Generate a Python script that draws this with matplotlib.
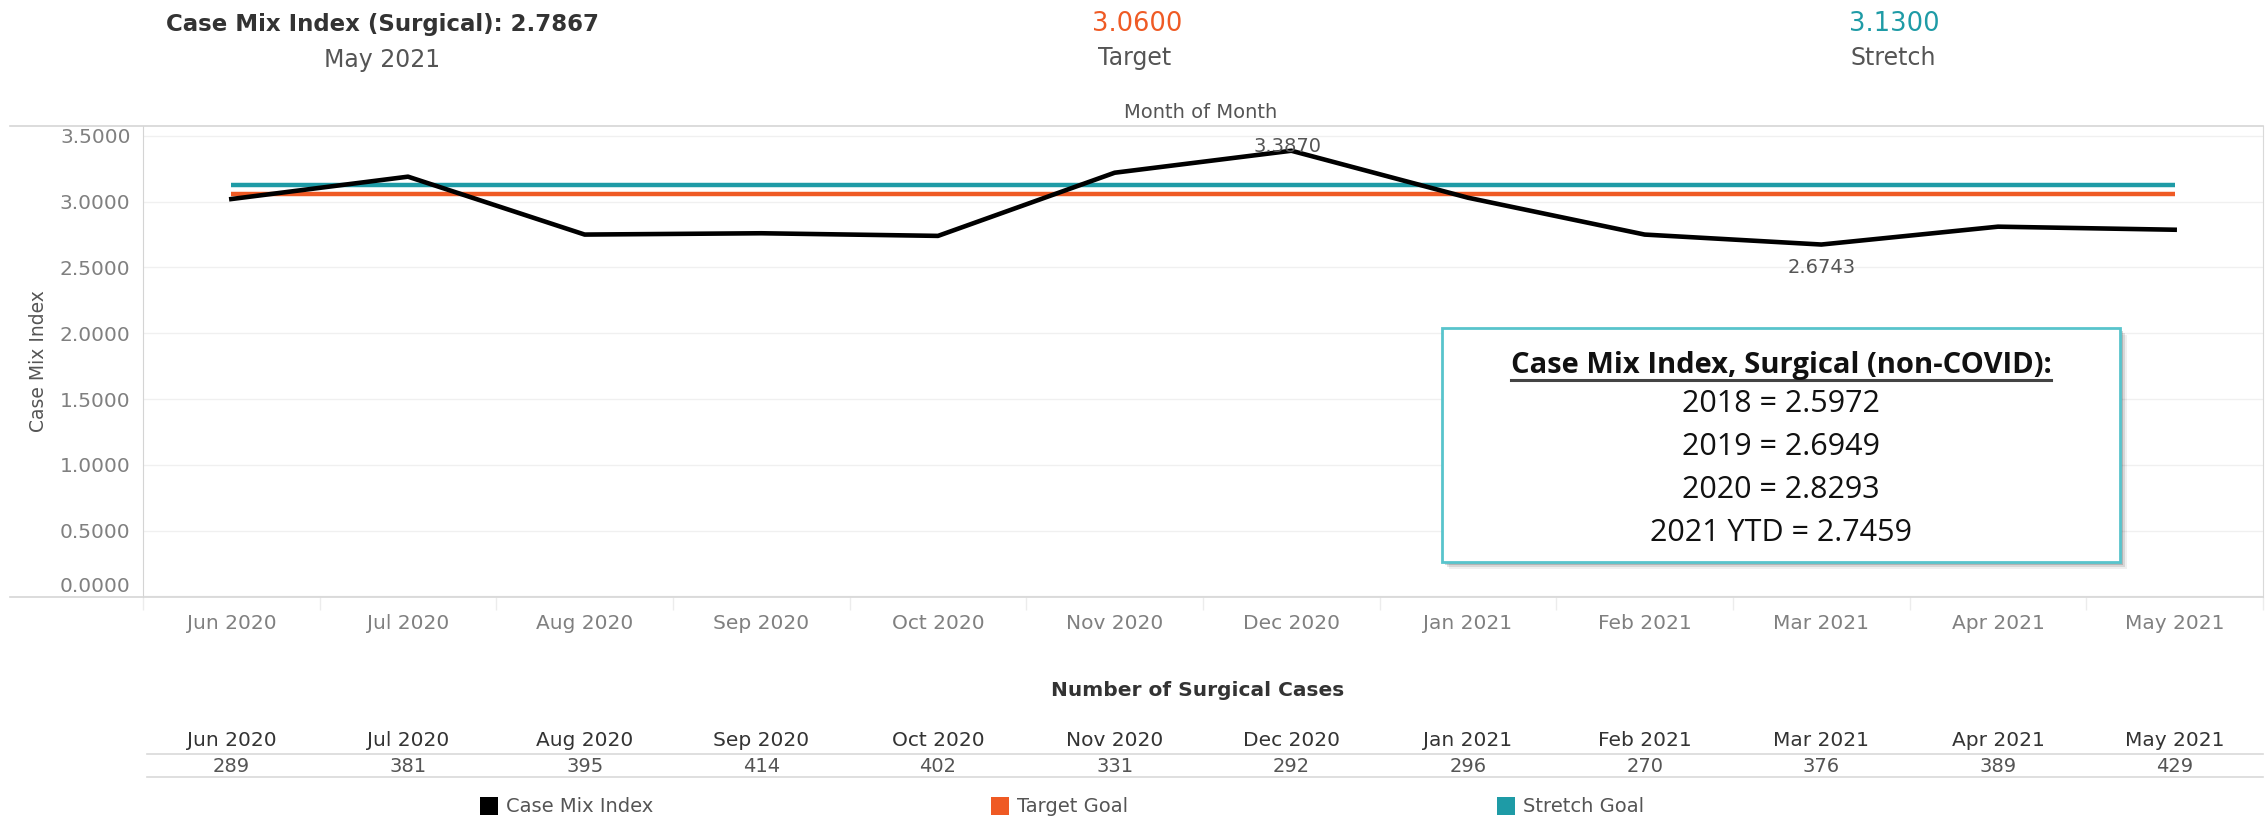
import numpy as np
import matplotlib
matplotlib.use("Agg")
import matplotlib.pyplot as plt
from matplotlib import transforms
from matplotlib.lines import Line2D
from matplotlib.patches import Rectangle

months = ["Jun 2020", "Jul 2020", "Aug 2020", "Sep 2020", "Oct 2020", "Nov 2020",
          "Dec 2020", "Jan 2021", "Feb 2021", "Mar 2021", "Apr 2021", "May 2021"]
cmi = [3.02, 3.19, 2.75, 2.76, 2.74, 3.22, 3.3870, 3.03, 2.75, 2.6743, 2.81, 2.7867]
cases = [289, 381, 395, 414, 402, 331, 292, 296, 270, 376, 389, 429]
target = 3.06
stretch = 3.13
yearly_labels = ["2018", "2019", "2020", "2021 YTD"]
yearly_cmi = [2.5972, 2.6949, 2.8293, 2.7459]

ORANGE = "#EF5A24"
TEAL = "#1E9BA6"
GRAY = "#808080"
MID = "#555555"
DARK = "#333333"
BOXFONT = ["Open Sans", "DejaVu Sans"]

W, H = 2267, 818
plt.rcParams["font.family"] = ["DejaVu Sans"]
fig = plt.figure(figsize=(W / 100, H / 100), dpi=100)


def fx(px):
    return px / W


def fy(py):
    return 1 - py / H


ax = fig.add_axes([fx(143), fy(597), fx(2263) - fx(143), fy(126) - fy(597)])
x = np.arange(len(months))

ax.plot([x[0], x[-1]], [stretch, stretch], color=TEAL, lw=3.2, solid_capstyle="butt", zorder=3)
ax.plot([x[0], x[-1]], [target, target], color=ORANGE, lw=3.2, solid_capstyle="butt", zorder=3)
ax.plot(x, cmi, color="black", lw=3.3, zorder=4)

ax.set_xlim(-0.49, 11.5)
ax.set_ylim(-0.004, 3.575)
yt = np.arange(0, 3.51, 0.5)
ax.set_yticks(yt)
ax.set_yticklabels([f"{v:.4f}" for v in yt])
ax.yaxis.get_ticklabels()[0].set_va("bottom")
ax.set_xticks(x)
ax.set_xticklabels(months)
ax.set_xticks(np.arange(-0.5, 12, 1), minor=True)
ax.tick_params(axis="both", which="major", length=0, labelsize=14.5, labelcolor=GRAY)
ax.tick_params(axis="y", pad=9)
ax.tick_params(axis="x", pad=12)
ax.tick_params(axis="x", which="minor", length=9, color="#ececec", width=1)
ax.grid(axis="y", color="#f0f0f0", lw=1)
ax.set_axisbelow(True)
for side in ["top", "bottom"]:
    ax.spines[side].set_visible(False)
ax.spines["left"].set_color("#d4d4d4")
ax.spines["right"].set_color("#d9d9d9")
fig.text(fx(38), fy(361), "Case Mix Index", rotation=90, ha="center", va="center",
         fontsize=13.5, color=MID)

# frame lines running across the full width
for py in (126, 597):
    fig.add_artist(Line2D([fx(10), fx(2263)], [fy(py), fy(py)], color="#d6d6d6", lw=1.2))

# point labels for the high and low months
i_hi = int(np.argmax(cmi))
i_lo = int(np.argmin(cmi))
ax.annotate(f"{cmi[i_hi]:.4f}", (x[i_hi], cmi[i_hi]), xytext=(-3, 3), textcoords="offset points",
            ha="center", va="center", fontsize=14, color=MID, zorder=5)
ax.annotate(f"{cmi[i_lo]:.4f}", (x[i_lo], cmi[i_lo]), xytext=(0, -10), textcoords="offset points",
            ha="center", va="top", fontsize=14, color=MID, zorder=5)

# header
fig.text(fx(382), fy(24), f"Case Mix Index (Surgical): {cmi[-1]:.4f}", ha="center", va="center",
         fontsize=16.5, fontweight="bold", color=DARK)
fig.text(fx(382), fy(60), months[-1], ha="center", va="center", fontsize=17, color=MID)
fig.text(fx(1137), fy(24), f"{target:.4f}", ha="center", va="center", fontsize=18.5, color=ORANGE)
fig.text(fx(1135), fy(58), "Target", ha="center", va="center", fontsize=17, color=MID)
fig.text(fx(1894), fy(24), f"{stretch:.4f}", ha="center", va="center", fontsize=18.5, color=TEAL)
fig.text(fx(1893), fy(58), "Stretch", ha="center", va="center", fontsize=17, color=MID)
fig.text(fx(1201), fy(112), "Month of Month", ha="center", va="center", fontsize=14, color=MID)

# yearly summary box with a soft drop shadow
bx0, by0, bx1, by1 = 1442, 328, 2120, 562
for k, a in [(7, 0.06), (5, 0.10), (3, 0.16)]:
    fig.add_artist(Rectangle((fx(bx0 + k), fy(by1 + k)), fx(bx1 - bx0), fy(by0) - fy(by1),
                             facecolor="#000000", alpha=a, edgecolor="none", zorder=5))
fig.add_artist(Rectangle((fx(bx0), fy(by1)), fx(bx1 - bx0), fy(by0) - fy(by1),
                         facecolor="white", edgecolor="#58C4CC", lw=2, zorder=6))
box_title = fig.text(fx(1781), fy(366), "Case Mix Index, Surgical (non-COVID):", ha="center",
                     va="center", fontsize=21, fontweight="bold", family=BOXFONT, color="#111111",
                     zorder=7)
for k, (lab, val) in enumerate(zip(yearly_labels, yearly_cmi)):
    fig.text(fx(1781), fy(404 + 43 * k), f"{lab} = {val:.4f}", ha="center", va="center",
             fontsize=22, family=BOXFONT, color="#111111", zorder=7)
fig.canvas.draw()
bb = box_title.get_window_extent()
fig.add_artist(Line2D([bb.x0 / W, bb.x1 / W], [fy(380), fy(380)], color="#444444", lw=2.2, zorder=7))

# surgical case counts table under the chart
tr = transforms.blended_transform_factory(ax.transData, fig.transFigure)
fig.text(fx(1198), fy(691), "Number of Surgical Cases", ha="center", va="center",
         fontsize=14.5, fontweight="bold", color=DARK)
for xi, m, n in zip(x, months, cases):
    fig.text(xi, fy(740), m, transform=tr, ha="center", va="center", fontsize=14.5, color=DARK)
    fig.text(xi, fy(766), str(n), transform=tr, ha="center", va="center", fontsize=14, color=MID)
for py in (754, 777):
    fig.add_artist(Line2D([fx(147), fx(2263)], [fy(py), fy(py)], color="#d9d9d9", lw=1.2))

# legend
legend_items = [("Case Mix Index", "black", 489), ("Target Goal", ORANGE, 1000), ("Stretch Goal", TEAL, 1506)]
for lab, col, cx in legend_items:
    fig.add_artist(Rectangle((fx(cx - 9), fy(815)), fx(18), fy(797) - fy(815), facecolor=col,
                             edgecolor="none"))
    fig.text(fx(cx + 17), fy(806), lab, ha="left", va="center", fontsize=14, color=MID)

fig.savefig("out.png", dpi=100, facecolor="white")
